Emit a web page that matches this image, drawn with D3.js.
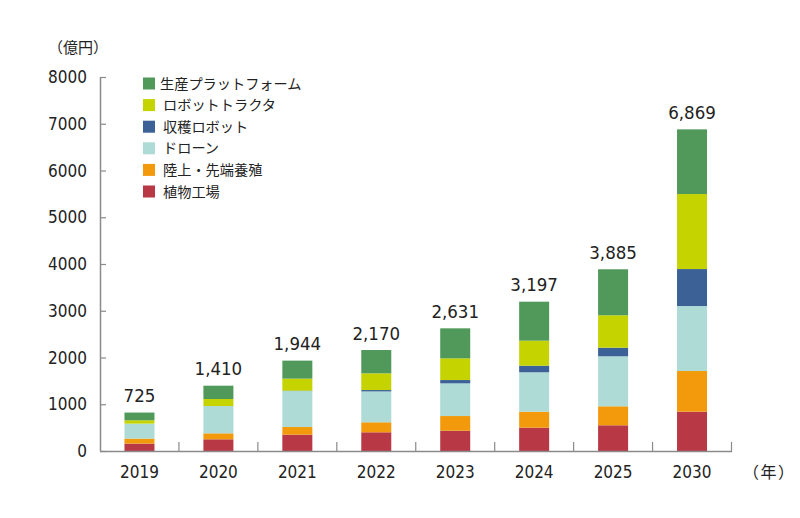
<!DOCTYPE html>
<html><head><meta charset="utf-8">
<script src="https://cdn.jsdelivr.net/npm/d3@7"></script>
<style>body{margin:0;background:#fff;}svg{display:block;}</style>
</head><body><svg id="c" width="800" height="518"></svg>
<script>
const years = ["2019","2020","2021","2022","2023","2024","2025","2030"];
const totalLabels = ["725","1,410","1,944","2,170","2,631","3,197","3,885","6,869"];
const seriesNames = ["植物工場","陸上・先端養殖","ドローン","収穫ロボット","ロボットトラクタ","生産プラットフォーム"];
const plantFactory = [158, 250, 349, 400, 434, 499, 550, 841];
const aquaculture  = [107, 128, 164, 214, 314, 342, 406, 870];
const drone        = [321, 584, 770, 660, 699, 843, 1070, 1390];
const harvestRobot = [0, 0, 8, 30, 71, 141, 184, 791];
const robotTractor = [71, 150, 257, 357, 464, 535, 693, 1604];
const platform     = [165, 285, 385, 499, 642, 834, 984, 1384];
const colors = ["#b83945","#f29a0c","#aedbd5","#3b6197","#c5d400","#50995a"];
const yTicks = [0,1000,2000,3000,4000,5000,6000,7000,8000];

const seriesValues = [plantFactory, aquaculture, drone, harvestRobot, robotTractor, platform];
const table = years.map((y,i)=>{const o={year:y}; seriesNames.forEach((s,k)=>o[s]=seriesValues[k][i]); return o;});
const stacked = d3.stack().keys(seriesNames)(table);

const svg = d3.select("#c");
const jp = "'Noto Sans CJK JP', sans-serif";
const num = "'DejaVu Sans Condensed','Liberation Sans Narrow','Noto Sans', sans-serif";
const x0 = 100, x1 = 731.5;
const x = d3.scaleBand().domain(years).range([x0, x1]).paddingInner(0.62).paddingOuter(0.31);
const y = d3.scaleLinear().domain([0, 8000]).range([451, 77]);

// bars
svg.append("g").selectAll("g").data(stacked).join("g")
  .attr("fill",(d,i)=>colors[i])
  .selectAll("rect").data(d=>d).join("rect")
  .attr("x",d=>x(d.data.year)).attr("width",x.bandwidth())
  .attr("y",d=>y(d[1])).attr("height",d=>y(d[0])-y(d[1]));

// y axis
const yAxis = svg.append("g").attr("transform",`translate(${x0},0)`)
  .call(d3.axisRight(y).tickValues(yTicks).tickSize(6).tickFormat(""));
yAxis.select(".domain").attr("stroke","#8a8a8a").attr("stroke-width",1.5).attr("d",`M0.5,${y(8000)}V${y(0)}`);
yAxis.selectAll(".tick line").attr("stroke","#8a8a8a").attr("stroke-width",1.2);
svg.append("g").selectAll("text").data(yTicks).join("text")
  .attr("x",87).attr("y",d=>y(d)).attr("dy","0.36em").attr("text-anchor","end")
  .attr("font-family",num).attr("font-size",17).attr("fill","#222").text(d=>d);

// x axis baseline and separators
svg.append("line").attr("x1",x0).attr("x2",x1+0.5).attr("y1",451.5).attr("y2",451.5)
  .attr("stroke","#8a8a8a").attr("stroke-width",1.5);
const step = x.step();
svg.append("g").selectAll("line").data(years).join("line")
  .attr("x1",d=>x(d)-x.paddingOuter()*step+step).attr("x2",d=>x(d)-x.paddingOuter()*step+step)
  .attr("y1",442).attr("y2",451).attr("stroke","#8a8a8a").attr("stroke-width",1.2);
svg.append("g").selectAll("text").data(years).join("text")
  .attr("x",d=>x(d)+x.bandwidth()/2).attr("y",472).attr("dy","0.36em").attr("text-anchor","middle")
  .attr("font-family",num).attr("font-size",17).attr("fill","#222").text(d=>d);
svg.append("text").attr("x",743).attr("y",472).attr("dy","0.36em").attr("letter-spacing",1.5)
  .attr("font-family",jp).attr("font-size",16).attr("fill","#222").text("（年）");
svg.append("text").attr("x",48).attr("y",48).attr("dy","0.36em")
  .attr("font-family",jp).attr("font-size",15).attr("fill","#222").text("（億円）");

// totals
const totals = stacked[stacked.length-1];
svg.append("g").selectAll("text").data(totals).join("text")
  .attr("x",d=>x(d.data.year)+x.bandwidth()/2).attr("y",(d,i)=>y(d[1])-17).attr("dy","0.36em")
  .attr("text-anchor","middle").attr("font-family",num).attr("font-size",18.5).attr("fill","#222")
  .text((d,i)=>totalLabels[i]);

// legend
const legendOrder = seriesNames.map((s,i)=>({s,c:colors[i]})).reverse();
const lg = svg.append("g").selectAll("g").data(legendOrder).join("g")
  .attr("transform",(d,i)=>`translate(143,${83.5+i*21.6})`);
lg.append("rect").attr("x",0).attr("y",-6).attr("width",12).attr("height",12).attr("fill",d=>d.c);
lg.append("text").attr("x",(d,i)=>i===0?17:20).attr("y",0).attr("dy","0.36em").attr("font-family",jp)
  .attr("font-size",14.2).attr("fill","#222").text(d=>d.s);
</script></body></html>
